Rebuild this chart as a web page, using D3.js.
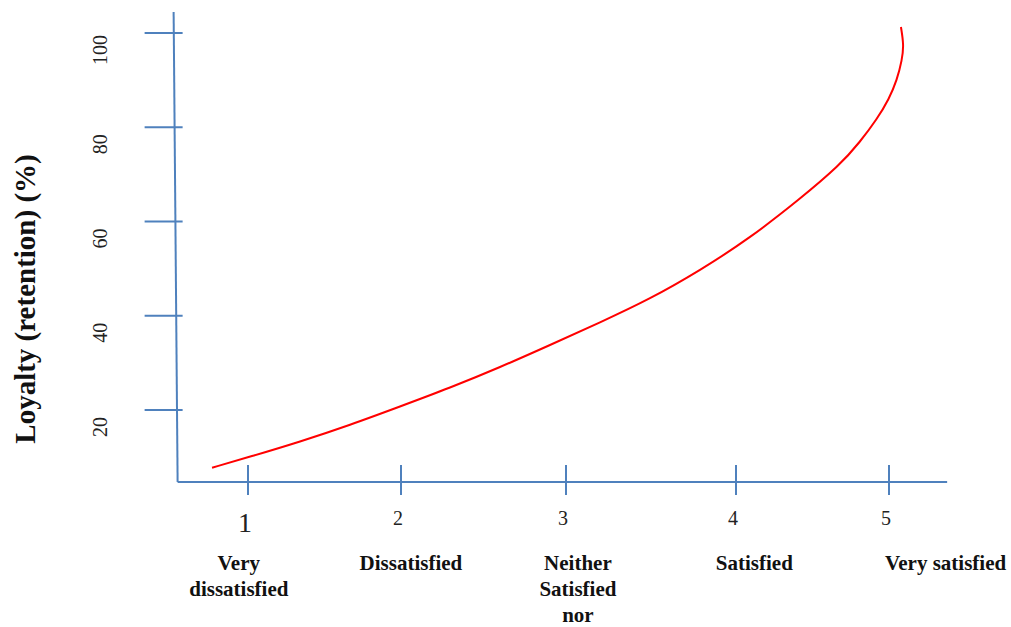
<!DOCTYPE html>
<html><head><meta charset="utf-8">
<script src="https://cdn.jsdelivr.net/npm/d3@7"></script>
<style>html,body{margin:0;padding:0;background:#fff;}svg{display:block;}</style>
</head><body>
<svg id="chart" width="1011" height="627"></svg>
<script>
// ---- data ----
const xTickValues = [1, 2, 3, 4, 5];
const xTickLabels = ["1", "2", "3", "4", "5"];
const categories = [["Very", "dissatisfied"], ["Dissatisfied"], ["Neither", "Satisfied", "nor"], ["Satisfied"], ["Very satisfied"]];
const categoryAt = [0.94, 2.06, 3.07, 4.12, 5.37];
const yTickValues = [20, 40, 60, 80, 100];
const yTitle = "Loyalty (retention) (%)";
const curveX = [0.765, 1.013, 1.340, 1.667, 1.993, 2.297, 2.600, 2.903, 3.200, 3.494, 3.788, 4.092, 4.418, 4.680, 4.810, 4.922, 5.000, 5.052, 5.085, 5.097, 5.078];
const curveY = [7.76, 10.09, 13.27, 16.82, 20.74, 24.71, 29.06, 33.79, 38.57, 43.55, 49.60, 56.50, 64.77, 71.99, 76.87, 81.75, 85.99, 90.03, 94.27, 97.45, 101.27];
const xAxisExtent = [0.54, 5.38];
const yAxisExtent = [4.72, 104.46];

// ---- scales ----
const x = d3.scaleLinear().domain(xTickValues).range([248, 401, 566, 736, 889]);
const y = d3.scaleLinear().domain([20, 100]).range([410, 33]);

const svg = d3.select("#chart");
const blue = "#4f81bd";
const serif = "Liberation Serif, Times New Roman, serif";

// x axis line
svg.append("line")
  .attr("x1", x(xAxisExtent[0])).attr("x2", x(xAxisExtent[1]))
  .attr("y1", y(yAxisExtent[0])).attr("y2", y(yAxisExtent[0]))
  .attr("stroke", blue).attr("stroke-width", 2);
// y axis line (slightly slanted as in original)
svg.append("line")
  .attr("x1", x(xAxisExtent[0]) - 4).attr("x2", x(xAxisExtent[0]))
  .attr("y1", y(yAxisExtent[1])).attr("y2", y(yAxisExtent[0]))
  .attr("stroke", blue).attr("stroke-width", 2);

// x ticks
svg.selectAll(".xt").data(xTickValues).enter().append("line")
  .attr("x1", d => x(d)).attr("x2", d => x(d))
  .attr("y1", y(yAxisExtent[0]) - 17).attr("y2", y(yAxisExtent[0]) + 13)
  .attr("stroke", blue).attr("stroke-width", 2);
// y ticks
svg.selectAll(".yt").data(yTickValues).enter().append("line")
  .attr("x1", x(xAxisExtent[0]) - 33).attr("x2", x(xAxisExtent[0]) + 5)
  .attr("y1", d => y(d)).attr("y2", d => y(d))
  .attr("stroke", blue).attr("stroke-width", 2);

// x tick labels
svg.selectAll(".xl").data(xTickValues).enter().append("text")
  .attr("x", d => x(d) - 3)
  .attr("y", (d, i) => i === 0 ? 532 : 525)
  .attr("text-anchor", "middle")
  .attr("font-family", serif)
  .attr("font-size", (d, i) => i === 0 ? 28 : 20)
  .attr("fill", "#222")
  .text((d, i) => xTickLabels[i]);

// y tick labels (rotated)
svg.selectAll(".yl").data(yTickValues).enter().append("text")
  .attr("transform", d => `translate(107,${y(d) + 17}) rotate(-90)`)
  .attr("text-anchor", "middle")
  .attr("font-family", serif)
  .attr("font-size", 20)
  .attr("fill", "#222")
  .text(d => d);

// category labels
categories.forEach((lines, i) => {
  const t = svg.append("text")
    .attr("text-anchor", "middle")
    .attr("font-family", serif)
    .attr("font-weight", "bold")
    .attr("font-size", 21)
    .attr("fill", "#111");
  lines.forEach((ln, j) => {
    t.append("tspan").attr("x", x(categoryAt[i])).attr("y", 570 + j * 26).text(ln);
  });
});

// y title
svg.append("text")
  .attr("transform", `translate(35,${(y(yAxisExtent[0]) + y(yAxisExtent[1])) / 2 + 52}) rotate(-90)`)
  .attr("text-anchor", "middle")
  .attr("font-family", serif)
  .attr("font-weight", "bold")
  .attr("font-size", 29)
  .attr("fill", "#111")
  .text(yTitle);

// curve
const pts = curveX.map((v, i) => [v, curveY[i]]);
svg.append("path")
  .attr("d", d3.line().x(d => x(d[0])).y(d => y(d[1])).curve(d3.curveBasis)(pts))
  .attr("fill", "none").attr("stroke", "#ff0000").attr("stroke-width", 2);
</script>
</body></html>
